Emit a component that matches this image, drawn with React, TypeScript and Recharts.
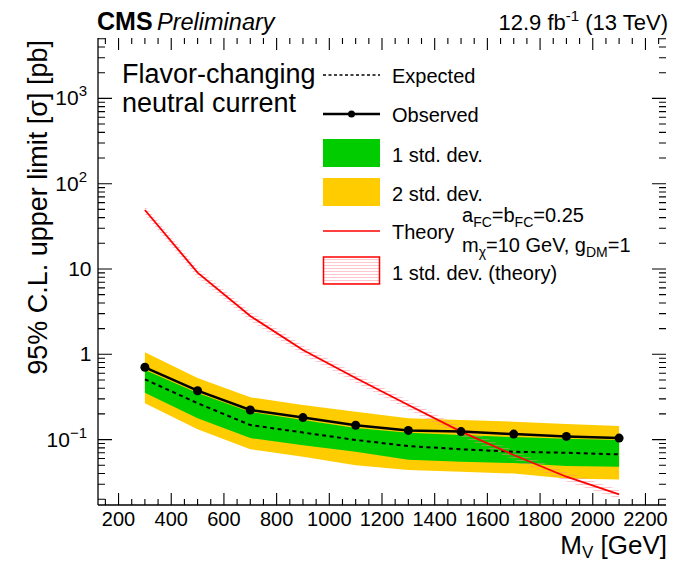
import React from 'react';
import { ComposedChart, Area, Line, XAxis, YAxis } from 'recharts';

// Mediator mass points [GeV]
const masses = [300, 500, 700, 900, 1100, 1300, 1500, 1700, 1900, 2100];
// 95% CL upper limits on the cross section [pb]
const observed = [0.704, 0.374, 0.222, 0.181, 0.147, 0.128, 0.124, 0.116, 0.109, 0.104];
const expected = [0.509, 0.267, 0.148, 0.121, 0.099, 0.084, 0.077, 0.072, 0.070, 0.067];
const oneSigmaUp = [0.655, 0.352, 0.211, 0.170, 0.137, 0.120, 0.113, 0.107, 0.102, 0.099];
const oneSigmaDown = [0.355, 0.178, 0.104, 0.086, 0.072, 0.058, 0.055, 0.053, 0.049, 0.048];
const twoSigmaUp = [1.055, 0.528, 0.313, 0.254, 0.212, 0.178, 0.170, 0.162, 0.152, 0.144];
const twoSigmaDown = [0.267, 0.132, 0.077, 0.063, 0.050, 0.044, 0.042, 0.040, 0.035, 0.034];
// Theory prediction and its uncertainty band
const theory = [49.2, 9.05, 2.81, 1.12, 0.528, 0.254, 0.124, 0.066, 0.0367, 0.0228];
const theoryUp = [55.6, 10.2, 3.18, 1.27, 0.597, 0.287, 0.140, 0.0746, 0.0415, 0.0258];
const theoryDown = [43.3, 7.96, 2.47, 0.986, 0.465, 0.224, 0.109, 0.0581, 0.0323, 0.0201];

// Axis ticks
const xTicks = [150, 200, 250, 300, 350, 400, 450, 500, 550, 600, 650, 700, 750, 800, 850, 900, 950, 1000,
  1050, 1100, 1150, 1200, 1250, 1300, 1350, 1400, 1450, 1500, 1550, 1600, 1650, 1700, 1750, 1800, 1850,
  1900, 1950, 2000, 2050, 2100, 2150, 2200, 2250];
const xLabelled = [200, 400, 600, 800, 1000, 1200, 1400, 1600, 1800, 2000, 2200];
const yTicks = [0.02, 0.03, 0.04, 0.05, 0.06, 0.07, 0.08, 0.09,
  0.1, 0.2, 0.3, 0.4, 0.5, 0.6, 0.7, 0.8, 0.9,
  1, 2, 3, 4, 5, 6, 7, 8, 9,
  10, 20, 30, 40, 50, 60, 70, 80, 90,
  100, 200, 300, 400, 500, 600, 700, 800, 900,
  1000, 2000, 3000, 4000, 5000];
const yLabelled = [0.1, 1, 10, 100, 1000];

const xDomain = [122, 2278];
const yDomain = [0.0171, 5105];

// frame edges
const PLOT_TOP = 38;
const PLOT_RIGHT = 666;

const data = masses.map((m, i) => ({
  m,
  obs: observed[i],
  exp: expected[i],
  s1: [oneSigmaDown[i], oneSigmaUp[i]],
  s2: [twoSigmaDown[i], twoSigmaUp[i]],
  th: theory[i],
  thBand: [theoryDown[i], theoryUp[i]],
}));

const FONT = '"Liberation Sans", Arial, Helvetica, sans-serif';
const GREEN = '#00cc00';
const YELLOW = '#ffcc00';
const RED = '#ff0000';

const isDecade = (v: number) => Math.abs(Math.log10(v) - Math.round(Math.log10(v))) < 1e-6;

// Bottom axis tick: inward tick on the bottom and the matching one on the top frame edge
function BottomTick(props: any) {
  const x = Number(props.x);
  const y = Number(props.y);
  const v = props.payload.value;
  const len = v % 200 === 0 ? 12 : 6;
  return (
    <g>
      <path d={`M${x},${y}V${y - len}M${x},${PLOT_TOP}V${PLOT_TOP + len}`} stroke="#000" strokeWidth={1.1} fill="none" />
      {xLabelled.includes(v) && (
        <text x={x} y={y + 21} textAnchor="middle" fontSize={20} fontFamily={FONT} fill="#000">{v}</text>
      )}
    </g>
  );
}

// Left axis tick: inward tick on the left and the matching one on the right frame edge
function LeftTick(props: any) {
  const x = Number(props.x);
  const y = Number(props.y);
  const v = props.payload.value;
  const len = isDecade(v) ? 14 : 7;
  const e = Math.round(Math.log10(v));
  let label: React.ReactNode = null;
  if (yLabelled.some((l) => Math.abs(l - v) < 1e-9)) {
    if (e === 0 || e === 1) {
      label = (
        <text x={x - 6.5} y={y + 7} textAnchor="end" fontSize={21} fontFamily={FONT} fill="#000">
          {e === 0 ? '1' : '10'}
        </text>
      );
    } else {
      label = (
        <text x={x - 11} y={y + 7} textAnchor="end" fontSize={21} fontFamily={FONT} fill="#000">
          10<tspan dy={-9} fontSize={15}>{e < 0 ? `\u2212${-e}` : `${e}`}</tspan>
        </text>
      );
    }
  }
  return (
    <g>
      <path d={`M${x},${y}H${x + len}M${PLOT_RIGHT},${y}H${PLOT_RIGHT - len}`} stroke="#000" strokeWidth={1.1} fill="none" />
      {label}
    </g>
  );
}

function Overlay() {
  const lx0 = 323;
  const lx1 = 380;
  const tx = 392;
  return (
    <svg width={682} height={562} style={{ position: 'absolute', left: 0, top: 0, pointerEvents: 'none' }}
      fontFamily={FONT}>
      <defs>
        <pattern id="hatchLegend" width={6} height={3} patternUnits="userSpaceOnUse">
          <line x1={0} x2={6} y1={1.5} y2={1.5} stroke="#ff8090" strokeOpacity={0.45} strokeWidth={1} />
        </pattern>
      </defs>
      {/* header */}
      <text x={97} y={30} fontSize={25} fontWeight="bold">CMS</text>
      <text x={157} y={30} fontSize={23.5} fontStyle="italic">Preliminary</text>
      <text x={668} y={30} fontSize={22} textAnchor="end">
        12.9 fb<tspan dy={-9} fontSize={15}>-1</tspan><tspan dy={9}> (13 TeV)</tspan>
      </text>
      {/* axis titles */}
      <text x={667} y={554} fontSize={26} textAnchor="end">
        M<tspan dy={4} fontSize={17}>V</tspan><tspan dy={-4}> [GeV]</tspan>
      </text>
      <text transform="translate(47,40) rotate(-90)" fontSize={27} textAnchor="end">
        95% C.L. upper limit [σ] [pb]
      </text>
      {/* process description */}
      <text x={122} y={83} fontSize={27}>Flavor-changing</text>
      <text x={122} y={112} fontSize={27}>neutral current</text>
      {/* legend */}
      <line x1={lx0} x2={lx1} y1={75} y2={75} stroke="#000" strokeWidth={1.5} strokeDasharray="3 2.5" />
      <text x={tx} y={83} fontSize={20}>Expected</text>
      <line x1={lx0} x2={lx1} y1={114} y2={114} stroke="#000" strokeWidth={2.5} />
      <circle cx={351.5} cy={114} r={3.5} fill="#000" />
      <text x={tx} y={122} fontSize={20}>Observed</text>
      <rect x={lx0} y={139} width={lx1 - lx0} height={28} fill={GREEN} />
      <text x={tx} y={162} fontSize={20}>1 std. dev.</text>
      <rect x={lx0} y={178} width={lx1 - lx0} height={28} fill={YELLOW} />
      <text x={tx} y={201} fontSize={20}>2 std. dev.</text>
      <line x1={lx0} x2={lx1} y1={231} y2={231} stroke={RED} strokeWidth={1.5} />
      <text x={tx} y={239} fontSize={20}>Theory</text>
      <text x={462} y={222} fontSize={20}>
        a<tspan dy={5} fontSize={14}>FC</tspan><tspan dy={-5}>=b</tspan><tspan dy={5} fontSize={14}>FC</tspan><tspan dy={-5}>=0.25</tspan>
      </text>
      <text x={462} y={252} fontSize={20}>
        m<tspan dy={5} fontSize={14}>χ</tspan><tspan dy={-5}>=10 GeV, g</tspan><tspan dy={5} fontSize={14}>DM</tspan><tspan dy={-5}>=1</tspan>
      </text>
      <rect x={lx0 + 0.5} y={257} width={lx1 - lx0 - 1} height={27} fill="url(#hatchLegend)" stroke={RED} strokeWidth={1.5} />
      <text x={tx} y={280} fontSize={20}>1 std. dev. (theory)</text>
    </svg>
  );
}

export default function App() {
  return (
    <div style={{ position: 'absolute', left: 0, top: 0, width: 682, height: 562, background: '#fff' }}>
      <ComposedChart width={682} height={562} data={data} margin={{ top: 38, right: 16, bottom: 0, left: 0 }}>
        <defs>
          <pattern id="hatchTheory" width={6} height={3} patternUnits="userSpaceOnUse">
            <line x1={0} x2={6} y1={1.5} y2={1.5} stroke="#ff8090" strokeOpacity={0.45} strokeWidth={1} />
          </pattern>
        </defs>
        <XAxis xAxisId="b" dataKey="m" type="number" domain={xDomain} ticks={xTicks} interval={0}
          height={57} tickSize={0} tickMargin={0} tickLine={false} tick={<BottomTick />}
          axisLine={{ stroke: '#000', strokeWidth: 1.3 }} allowDataOverflow />
        <XAxis xAxisId="t" dataKey="m" type="number" orientation="top" domain={xDomain}
          height={0} tickLine={false} tick={false}
          axisLine={{ stroke: '#000', strokeWidth: 1.3 }} allowDataOverflow />
        <YAxis yAxisId="l" type="number" scale="log" domain={yDomain} ticks={yTicks} interval={0}
          width={98} tickSize={0} tickMargin={0} tickLine={false} tick={<LeftTick />}
          axisLine={{ stroke: '#000', strokeWidth: 1.3 }} allowDataOverflow />
        <YAxis yAxisId="r" type="number" scale="log" orientation="right" domain={yDomain}
          width={0} tickLine={false} tick={false}
          axisLine={{ stroke: '#000', strokeWidth: 1.3 }} allowDataOverflow />

        <Area xAxisId="b" yAxisId="l" dataKey="s2" type="linear" fill={YELLOW} fillOpacity={1}
          stroke="none" isAnimationActive={false} />
        <Area xAxisId="b" yAxisId="l" dataKey="s1" type="linear" fill={GREEN} fillOpacity={1}
          stroke="none" isAnimationActive={false} />
        <Area xAxisId="b" yAxisId="l" dataKey="thBand" type="linear" fill="url(#hatchTheory)" fillOpacity={1}
          stroke="none" isAnimationActive={false} />
        <Line xAxisId="b" yAxisId="l" dataKey="exp" type="linear" stroke="#000" strokeWidth={2}
          strokeDasharray="4 3.5" dot={false} isAnimationActive={false} />
        <Line xAxisId="b" yAxisId="l" dataKey="obs" type="linear" stroke="#000" strokeWidth={2.5}
          dot={{ r: 4.5, fill: '#000', stroke: 'none' }} isAnimationActive={false} />
        <Line xAxisId="b" yAxisId="l" dataKey="th" type="linear" stroke={RED} strokeWidth={1.8}
          dot={false} isAnimationActive={false} />
        <Line xAxisId="t" yAxisId="r" dataKey="obs" type="linear" stroke="none" dot={false}
          isAnimationActive={false} />
      </ComposedChart>
      <Overlay />
    </div>
  );
}
